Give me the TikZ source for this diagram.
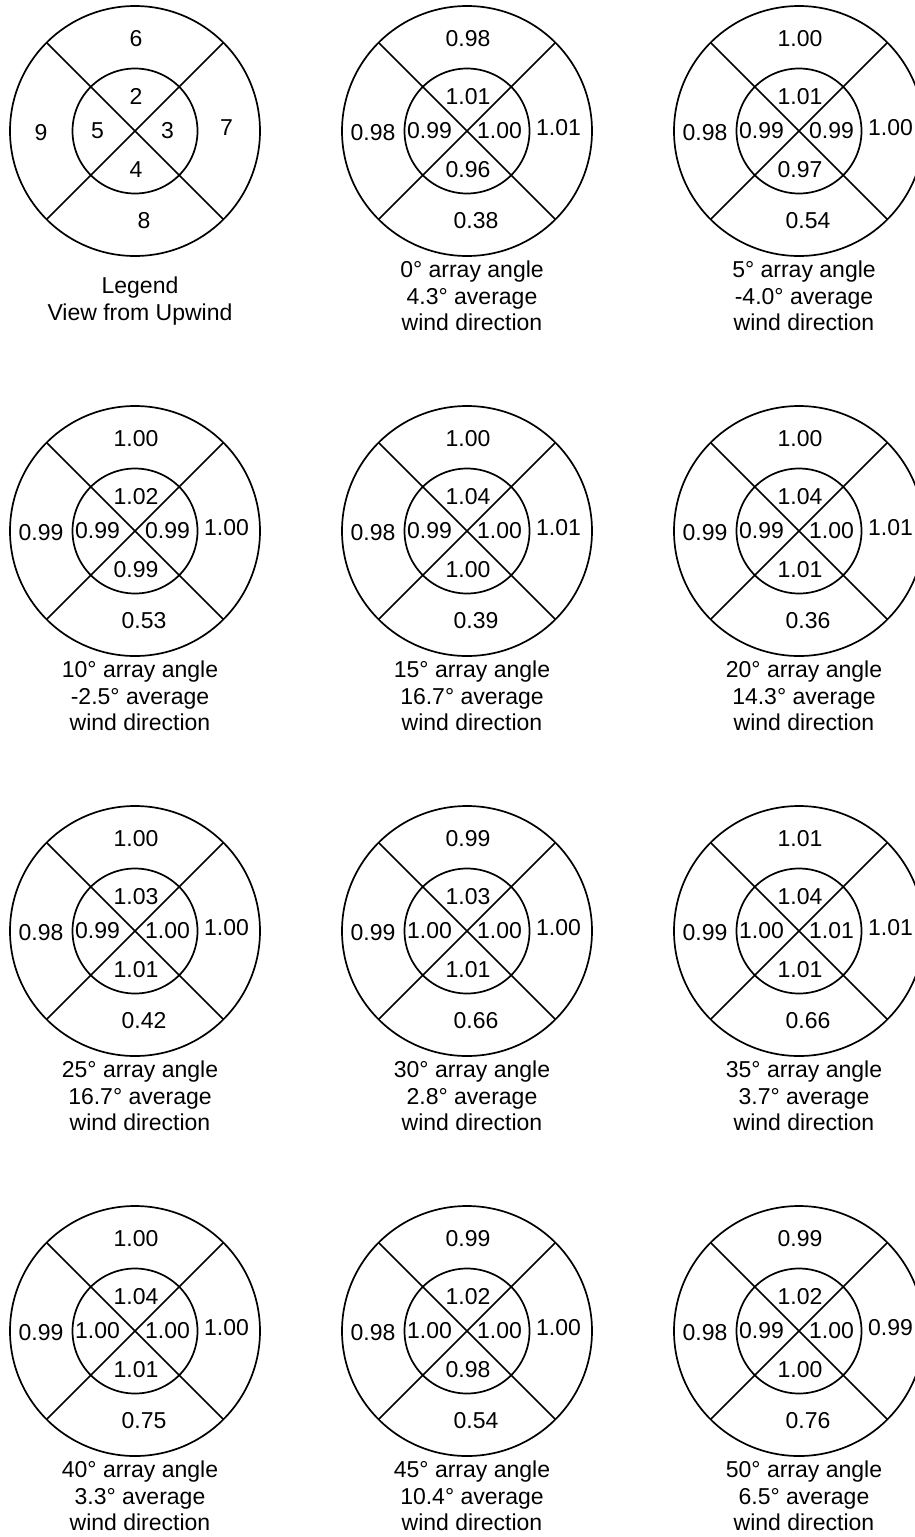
\documentclass[tikz,border=0pt]{standalone}
\usepackage{fontspec}
\setmainfont{Liberation Sans}
\begin{document}
\begin{tikzpicture}[x=1pt,y=-1pt,
  ring/.style={circle,draw,line width=1.7pt,outer sep=0pt,inner sep=0pt},
  outerring/.style={ring,minimum size=250pt},
  innerring/.style={ring,minimum size=125pt},
  diag/.style={line width=1.7pt},
  val/.style={inner sep=0pt,font=\fontsize{23}{26.5}\selectfont},
  capt/.style={inner sep=0pt,anchor=north,align=center,font=\fontsize{23}{26.5}\selectfont}]
\useasboundingbox (0,0) rectangle (915,1537);
\clip (0,0) rectangle (915,1537);
\foreach \n/\x/\y/\ta/\la/\ia/\ib/\ic/\ra/\id/\ba/\co/\cap in {
  1/135/131/6/9/2/5/3/7/4/8/146/{Legend\\View from Upwind},
  2/467/131/0.98/0.98/1.01/0.99/1.00/1.01/0.96/0.38/130/{0° array angle\\4.3° average\\wind direction},
  3/799/131/1.00/0.98/1.01/0.99/0.99/1.00/0.97/0.54/130/{5° array angle\\-4.0° average\\wind direction},
  4/135/531/1.00/0.99/1.02/0.99/0.99/1.00/0.99/0.53/130/{10° array angle\\-2.5° average\\wind direction},
  5/467/531/1.00/0.98/1.04/0.99/1.00/1.01/1.00/0.39/130/{15° array angle\\16.7° average\\wind direction},
  6/799/531/1.00/0.99/1.04/0.99/1.00/1.01/1.01/0.36/130/{20° array angle\\14.3° average\\wind direction},
  7/135/931/1.00/0.98/1.03/0.99/1.00/1.00/1.01/0.42/130/{25° array angle\\16.7° average\\wind direction},
  8/467/931/0.99/0.99/1.03/1.00/1.00/1.00/1.01/0.66/130/{30° array angle\\2.8° average\\wind direction},
  9/799/931/1.01/0.99/1.04/1.00/1.01/1.01/1.01/0.66/130/{35° array angle\\3.7° average\\wind direction},
  10/135/1331/1.00/0.99/1.04/1.00/1.00/1.00/1.01/0.75/130/{40° array angle\\3.3° average\\wind direction},
  11/467/1331/0.99/0.98/1.02/1.00/1.00/1.00/0.98/0.54/130/{45° array angle\\10.4° average\\wind direction},
  12/799/1331/0.99/0.98/1.02/0.99/1.00/0.99/1.00/0.76/130/{50° array angle\\6.5° average\\wind direction}}
{
  \node[outerring] (o\n) at (\x,\y) {};
  \node[innerring] (i\n) at (\x,\y) {};
  \draw[diag] (o\n.135) -- (o\n.315);
  \draw[diag] (o\n.45) -- (o\n.225);
  \node[val] (t\n) at ([shift={(1,-92)}]o\n.center) {\ta};
  \node[val] (b\n) at ([shift={(9,90)}]o\n.center) {\ba};
  \node[val] (l\n) at ([shift={(-94,1.5)}]o\n.center) {\la};
  \node[val] (r\n) at ([shift={(91.5,-3.5)}]o\n.center) {\ra};
  \node[val] (it\n) at ([shift={(1,-34.5)}]o\n.center) {\ia};
  \node[val] (ib\n) at ([shift={(1,38.5)}]o\n.center) {\id};
  \node[val] (il\n) at ([shift={(-37.5,0)}]o\n.center) {\ib};
  \node[val] (ir\n) at ([shift={(32.5,0)}]o\n.center) {\ic};
  \node[capt] (c\n) at ([shift={(5,\co)}]o\n.center) {\cap};
}
\end{tikzpicture}
\end{document}
